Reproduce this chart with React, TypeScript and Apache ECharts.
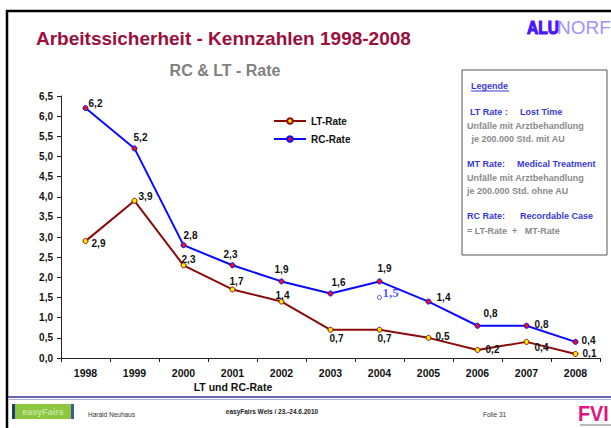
import React, { useEffect, useRef } from "react";
import * as echarts from "echarts";

const years = ["1998", "1999", "2000", "2001", "2002", "2003", "2004", "2005", "2006", "2007", "2008"];
const ltRate = [2.9, 3.9, 2.3, 1.7, 1.4, 0.7, 0.7, 0.5, 0.2, 0.4, 0.1];
const rcRate = [6.2, 5.2, 2.8, 2.3, 1.9, 1.6, 1.9, 1.4, 0.8, 0.8, 0.4];
const annotYear = "2004";
const annotRc = 1.5;
const annotLt = 0.7;

// label offsets (style only)
const ltLabelOffsets: [number, number][] = [
  [13, 2], [11, -4], [5, -6], [4, -8], [1, -6], [6, 9], [5, 9], [14, -1], [15, 0], [15, 6], [14, 0],
];
const rcLabelOffsets: [number, number][] = [
  [10, -5], [6, -11], [7, -10], [-2, -11], [0, -12], [8, -11], [5, -13], [15, -4], [13, -12], [15, -1], [13, -1],
];

const FONT = '"Liberation Sans", Arial, sans-serif';
const fmt = (v: number) => v.toFixed(1).replace(".", ",");

export default function App() {
  const ref = useRef<HTMLDivElement>(null);
  useEffect(() => {
    if (!ref.current) return;
    const chart = echarts.init(ref.current, undefined, { renderer: "svg" });
    const labelBase = {
      show: true,
      position: "inside",
      fontFamily: FONT,
      fontWeight: "bold",
      fontSize: 10,
      color: "#111",
      formatter: (p: any) => fmt(p.value as number),
    };
    const blueTxt = "#3a3ad8";
    const grayTxt = "#8a8a8a";
    const lgFont = `bold 9px ${FONT}`;
    const option: any = {
      animation: false,
      backgroundColor: "#ffffff",
      grid: { left: 61, right: 11, top: 96, bottom: 70 },
      legend: {
        data: ["LT-Rate", "RC-Rate"],
        orient: "vertical",
        left: 268,
        top: 111,
        itemWidth: 32,
        itemHeight: 7,
        itemGap: 8,
        textStyle: { fontFamily: FONT, fontWeight: "bold", fontSize: 10, color: "#111" },
      },
      xAxis: {
        type: "category",
        data: years,
        boundaryGap: true,
        axisLine: { lineStyle: { color: "#222", width: 1 } },
        axisTick: { show: true, length: 4, lineStyle: { color: "#222" } },
        axisLabel: { fontFamily: FONT, fontWeight: "bold", fontSize: 10.5, color: "#111", margin: 9 },
        splitLine: { show: false },
      },
      yAxis: {
        type: "value",
        min: 0,
        max: 6.5,
        interval: 0.5,
        axisLine: { show: true, lineStyle: { color: "#222", width: 1 } },
        axisTick: { show: true, length: 4, lineStyle: { color: "#222" } },
        axisLabel: {
          fontFamily: FONT,
          fontWeight: "bold",
          fontSize: 10,
          color: "#111",
          margin: 8,
          formatter: (v: number) => fmt(v),
        },
        splitLine: { show: false },
      },
      series: [
        {
          name: "LT-Rate",
          type: "line",
          data: ltRate.map((v, i) => ({ value: v, label: { offset: ltLabelOffsets[i] } })),
          symbol: "circle",
          symbolSize: 5,
          lineStyle: { color: "#8b0a0a", width: 2 },
          itemStyle: { color: "#ffee00", borderColor: "#8b0a0a", borderWidth: 1 },
          label: labelBase,
          z: 3,
        },
        {
          name: "RC-Rate",
          type: "line",
          data: rcRate.map((v, i) => ({ value: v, label: { offset: rcLabelOffsets[i] } })),
          symbol: "circle",
          symbolSize: 5,
          lineStyle: { color: "#0a0aff", width: 2 },
          itemStyle: { color: "#ee1111", borderColor: "#0a0aff", borderWidth: 1 },
          label: labelBase,
          z: 3,
        },
        {
          name: "RC-Annotation",
          type: "scatter",
          data: [[annotYear, annotRc]],
          symbol: "circle",
          symbolSize: 4,
          itemStyle: { color: "#ffffff", borderColor: "#2222ff", borderWidth: 1 },
          label: {
            show: true,
            position: "inside",
            offset: [11, -5],
            fontFamily: '"Liberation Serif", "Times New Roman", serif',
            fontWeight: "bold",
            fontSize: 13,
            color: "#3030ff",
            formatter: (p: any) => fmt(p.value[1]),
          },
          z: 4,
        },
        {
          name: "LT-Annotation",
          type: "scatter",
          data: [[annotYear, annotLt]],
          symbol: "none",
          symbolSize: 0,
          label: {
            show: true,
            position: "inside",
            offset: [7, -10],
            fontFamily: '"Liberation Serif", "Times New Roman", serif',
            fontWeight: "bold",
            fontSize: 13,
            color: "#a52222",
            formatter: (p: any) => fmt(p.value[1]),
          },
          z: 4,
        },
      ],
      graphic: [
        // slide border
        {
          type: "rect",
          shape: { x: 7, y: 11, width: 640, height: 440 },
          style: { fill: "none", stroke: "#000", lineWidth: 2.5 },
          silent: true,
        },
        // title
        {
          type: "text",
          x: 36,
          y: 38,
          style: {
            text: "Arbeitssicherheit - Kennzahlen 1998-2008",
            font: `bold 19px ${FONT}`,
            fill: "#9b0f3c",
            textAlign: "left",
            textVerticalAlign: "middle",
          },
        },
        {
          type: "text",
          x: 225,
          y: 70,
          style: {
            text: "RC & LT - Rate",
            font: `bold 16px ${FONT}`,
            fill: "#808080",
            textAlign: "center",
            textVerticalAlign: "middle",
          },
        },
        // ALUNORF logo
        {
          type: "text",
          x: 527,
          y: 27,
          scaleX: 0.82,
          style: {
            text: "ALU",
            font: `bold 19px ${FONT}`,
            fill: "#4a14ff",
            stroke: "#4a14ff",
            lineWidth: 1.2,
            textAlign: "left",
            textVerticalAlign: "middle",
          },
        },
        {
          type: "text",
          x: 557,
          y: 27,
          style: { text: "NORF", font: `19px ${FONT}`, fill: "#a490ff", textAlign: "left", textVerticalAlign: "middle" },
        },
        // legend box
        {
          type: "rect",
          shape: { x: 462, y: 70, width: 145, height: 185 },
          style: { fill: "#ffffff", stroke: "#555", lineWidth: 1 },
          z: -1,
        },
        { type: "text", x: 471, y: 86, style: { text: "Legende", font: lgFont, fill: blueTxt, textVerticalAlign: "middle" } },
        { type: "line", shape: { x1: 471, y1: 91, x2: 509, y2: 91 }, style: { stroke: blueTxt, lineWidth: 1 } },
        { type: "text", x: 470, y: 112, style: { text: "LT Rate :", font: lgFont, fill: blueTxt, textVerticalAlign: "middle" } },
        { type: "text", x: 520, y: 112, style: { text: "Lost Time", font: lgFont, fill: blueTxt, textVerticalAlign: "middle" } },
        { type: "text", x: 467, y: 125.5, style: { text: "Unfälle mit Arztbehandlung", font: lgFont, fill: grayTxt, textVerticalAlign: "middle" } },
        { type: "text", x: 469, y: 139, style: { text: " je 200.000 Std. mit AU", font: lgFont, fill: grayTxt, textVerticalAlign: "middle" } },
        { type: "text", x: 467, y: 164, style: { text: "MT Rate:", font: lgFont, fill: blueTxt, textVerticalAlign: "middle" } },
        { type: "text", x: 517, y: 164, style: { text: "Medical Treatment", font: lgFont, fill: blueTxt, textVerticalAlign: "middle" } },
        { type: "text", x: 467, y: 177.5, style: { text: "Unfälle mit Arztbehandlung", font: lgFont, fill: grayTxt, textVerticalAlign: "middle" } },
        { type: "text", x: 467, y: 191, style: { text: "je 200.000 Std. ohne AU", font: lgFont, fill: grayTxt, textVerticalAlign: "middle" } },
        { type: "text", x: 467, y: 216, style: { text: "RC Rate:", font: lgFont, fill: blueTxt, textVerticalAlign: "middle" } },
        { type: "text", x: 520, y: 216, style: { text: "Recordable Case", font: lgFont, fill: blueTxt, textVerticalAlign: "middle" } },
        { type: "text", x: 467, y: 230.5, style: { text: "= LT-Rate  +   MT-Rate", font: lgFont, fill: grayTxt, textVerticalAlign: "middle" } },
        // x axis name
        {
          type: "text",
          x: 233,
          y: 387,
          style: { text: "LT und RC-Rate", font: `bold 10.5px ${FONT}`, fill: "#111", textAlign: "center", textVerticalAlign: "middle" },
        },
        // footer lines
        { type: "line", shape: { x1: 8, y1: 397, x2: 611, y2: 397 }, style: { stroke: "#333399", lineWidth: 1.5 } },
        { type: "line", shape: { x1: 8, y1: 399.5, x2: 611, y2: 399.5 }, style: { stroke: "#b0b0dd", lineWidth: 1.2 } },
        // easyFairs logo
        { type: "rect", shape: { x: 12, y: 404, width: 62, height: 15 }, style: { fill: "#8dc63f" } },
        { type: "rect", shape: { x: 12, y: 404, width: 3, height: 15 }, style: { fill: "#1f3a6e" } },
        { type: "rect", shape: { x: 71, y: 404, width: 3, height: 15 }, style: { fill: "#3a5e8e" } },
        {
          type: "text",
          x: 43,
          y: 411.5,
          style: { text: "easyFairs", font: `bold 9px ${FONT}`, fill: "#c5e6a0", textAlign: "center", textVerticalAlign: "middle" },
        },
        // footer texts
        { type: "text", x: 88, y: 414, style: { text: "Harald Neuhaus", font: `6.5px ${FONT}`, fill: "#333", textVerticalAlign: "middle" } },
        {
          type: "text",
          x: 272,
          y: 411,
          style: { text: "easyFairs Wels / 23.-24.6.2010", font: `bold 6.5px ${FONT}`, fill: "#222", textAlign: "center", textVerticalAlign: "middle" },
        },
        { type: "text", x: 483, y: 414, style: { text: "Folie 31", font: `6.5px ${FONT}`, fill: "#333", textVerticalAlign: "middle" } },
        // FVI logo
        {
          type: "text",
          x: 578,
          y: 413,
          scaleX: 0.9,
          style: { text: "FVI", font: `bold 22px ${FONT}`, fill: "#e4137f", textVerticalAlign: "middle" },
        },
        { type: "rect", shape: { x: 580, y: 424, width: 31, height: 2 }, style: { fill: "#bbbbbb" } },
      ],
    };
    chart.setOption(option);
    return () => chart.dispose();
  }, []);
  return (
    <div
      ref={ref}
      style={{ position: "fixed", left: 0, top: 0, width: 611, height: 428 }}
    />
  );
}
